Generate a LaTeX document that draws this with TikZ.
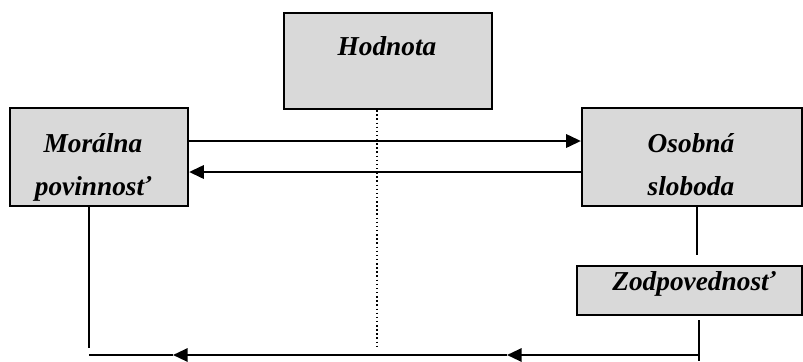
\documentclass[tikz,border=0pt]{standalone}
\usepackage{fontspec}
\setmainfont{Liberation Serif}
\usetikzlibrary{arrows.meta,calc}
\tikzset{
  box/.style={draw=black, line width=1.7pt, fill=boxgray, inner sep=0pt, rectangle},
  lbl/.style={font=\fontsize{20.5pt}{24pt}\selectfont\bfseries\itshape, anchor=base, inner sep=0pt},
  conn/.style={line width=1.1pt},
  arr/.style={line width=1.6pt, -{Triangle[length=11pt,width=10pt]}},
}
\definecolor{boxgray}{HTML}{D9D9D9}
\begin{document}
\begin{tikzpicture}[x=0.75pt,y=-0.75pt]
\useasboundingbox (0,0) rectangle (803,361);
% boxes
\node[box, minimum width=208*0.75pt, minimum height=96*0.75pt] (hod) at (388,61) {};
\node[box, minimum width=178*0.75pt, minimum height=98*0.75pt] (mor) at (99,157) {};
\node[box, minimum width=220*0.75pt, minimum height=98*0.75pt] (oso) at (692,157) {};
\node[box, minimum width=225*0.75pt, minimum height=49*0.75pt] (zod) at (689.5,290.5) {};
% texts
\node[lbl] (thod) at (387,55) {Hodnota};
\node[lbl] (tmor1) at (93,152) {Morálna};
\node[lbl] (tmor2) at (93,195) {povinnosť};
\node[lbl] (toso1) at (691,152) {Osobná};
\node[lbl] (toso2) at (691,195) {sloboda};
\node[lbl] (tzod) at (694,290) {Zodpovednosť};
% coordinates
\coordinate (mb) at (89,348);
\coordinate (ob) at (697,255);
\coordinate (zb) at (699,361);
\coordinate (bR) at (699,355);
\coordinate (bA) at (507,355);
\coordinate (bB) at (173,355);
\coordinate (bL) at (89,355);
\coordinate (db) at (377,347);
% horizontal arrows
\draw[arr] ([yshift=12pt]mor.east) -- ([yshift=12pt]oso.west);
\draw[arr] ([yshift=-11.25pt]oso.west) -- ([yshift=-11.25pt]mor.east);
% dotted
\draw[line width=1.1pt, dotted] (hod.south -| db) -- (db);
% verticals
\draw[conn] (mor.south -| mb) -- (mb);
\draw[conn] (oso.south -| ob) -- (ob);
\draw[conn] ([yshift=-3pt]zod.south -| zb) -- (zb);
% bottom line
\draw[arr] (bR) -- (bA);
\draw[arr] (bA) -- (bB);
\draw[conn] (bB) -- (bL);
\end{tikzpicture}
\end{document}
